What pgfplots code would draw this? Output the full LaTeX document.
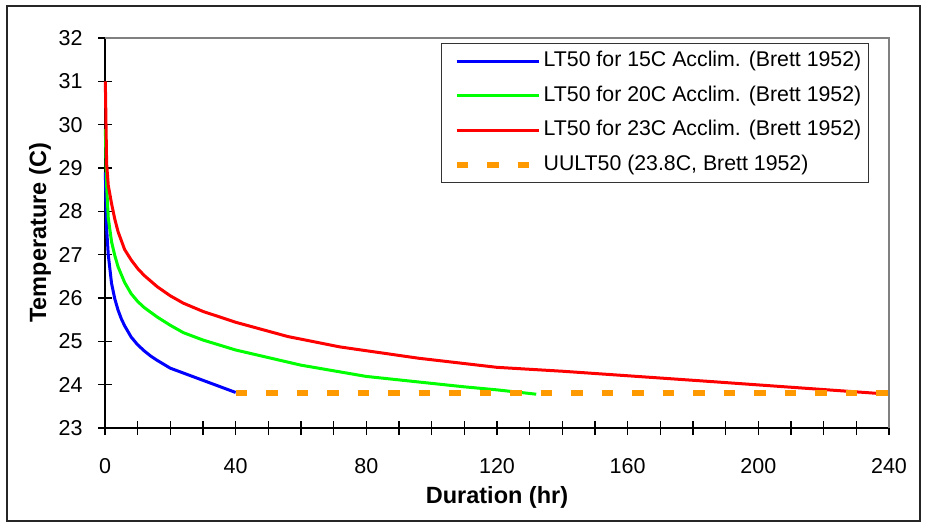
\documentclass[border=0pt]{standalone}
\usepackage{fontspec}
\setmainfont{Liberation Sans}
\usepackage{pgfplots}
\pgfplotsset{compat=1.18}
\definecolor{uorange}{RGB}{255,153,0}
\definecolor{framegray}{RGB}{128,128,128}
\definecolor{pureblue}{RGB}{0,0,255}
\definecolor{puregreen}{RGB}{0,255,0}
\definecolor{purered}{RGB}{255,0,0}
\begin{document}
\begin{tikzpicture}
\draw[line width=1.4bp, black!85] (7bp,7bp) rectangle (920bp,522bp);
\begin{axis}[
  at={(105bp,100bp)}, anchor=south west,
  scale only axis, width=784bp, height=390bp,
  xmin=0, xmax=240, ymin=23, ymax=32,
  axis lines=left,
  axis line style={-, black, line width=2bp},
  xtick distance=40, minor x tick num=3, ytick distance=1,
  tick align=center,
  major tick length=14bp, minor tick length=14bp,
  every tick/.style={black, line width=1.1bp},
  clip=false,
  /pgf/number format/assume math mode=true,
  ticklabel style={font=\fontsize{21.5bp}{25bp}\selectfont},
  yticklabel style={xshift=-12bp},
  xticklabel style={yshift=-20bp},
  xlabel={\textbf{Duration (hr)}}, ylabel={\textbf{Temperature (C)}},
  label style={font=\fontsize{23.5bp}{28bp}\selectfont},
  xlabel style={at={(axis description cs:0.5,0)}, anchor=center, yshift=-69bp},
  ylabel style={at={(axis description cs:0,0.5)}, anchor=center, rotate=0, yshift=65bp},
  legend style={at={(axis description cs:0.4286,0.988)}, anchor=north west,
    draw=black!80, line width=1.2bp, font=\fontsize{21.3bp}{25bp}\selectfont,
    inner sep=5.5bp, row sep=9.5bp,
    nodes={inner xsep=2bp, inner ysep=2bp, text height=16bp, text depth=5bp}},
  legend cell align=left,
  legend image code/.code={\path (0bp,0bp); \draw[#1] (6.5bp,0bp) -- (88.5bp,0bp);},
]
\addplot[pureblue, line width=3bp, line join=round] coordinates {
 (0.1,28.9) (0.5,27.6) (1,27.0) (2,26.34) (3,25.98) (4,25.72) (5,25.52)
 (6,25.36) (8,25.1) (10,24.92) (12,24.78) (14,24.66) (16,24.56) (20,24.38) (40,23.82)};
\addlegendentry{LT50 for 15C Acclim. (Brett 1952)}
\addplot[puregreen, line width=3bp, line join=round] coordinates {
 (0.1,29.9) (0.5,28.6) (1,27.85) (2,27.3) (3,26.98) (4,26.72) (6,26.36)
 (8,26.1) (10,25.92) (12,25.78) (16,25.56) (20,25.37) (24,25.2) (30,25.03)
 (40,24.8) (60,24.45) (80,24.19) (100,24.03)
 (110,23.95) (120,23.88) (132,23.78)};
\addlegendentry{LT50 for 20C Acclim. (Brett 1952)}
\addplot[purered, line width=3bp, line join=round] coordinates {
 (0.1,31.0) (0.5,29.1) (1,28.6) (2,28.18) (3,27.82) (4,27.53) (6,27.12)
 (8,26.88) (10,26.68) (12,26.52) (16,26.26) (20,26.05) (24,25.88) (30,25.69)
 (40,25.44) (56,25.11) (72,24.87) (96,24.61)
 (120,24.40) (140,24.31) (184,24.08) (240,23.78)};
\addlegendentry{LT50 for 23C Acclim. (Brett 1952)}
\addplot[uorange, line width=6bp, dash pattern=on 11.5bp off 19bp] coordinates {
 (40,23.8) (240,23.8)};
\addlegendentry{UULT50 (23.8C, Brett 1952)}
\draw[framegray, line width=2.5bp] (rel axis cs:0,1) -- (rel axis cs:1,1) -- (rel axis cs:1,0);
\end{axis}
\pgfresetboundingbox
\path[use as bounding box] (0,0) rectangle (930bp,528bp);
\end{tikzpicture}
\end{document}
